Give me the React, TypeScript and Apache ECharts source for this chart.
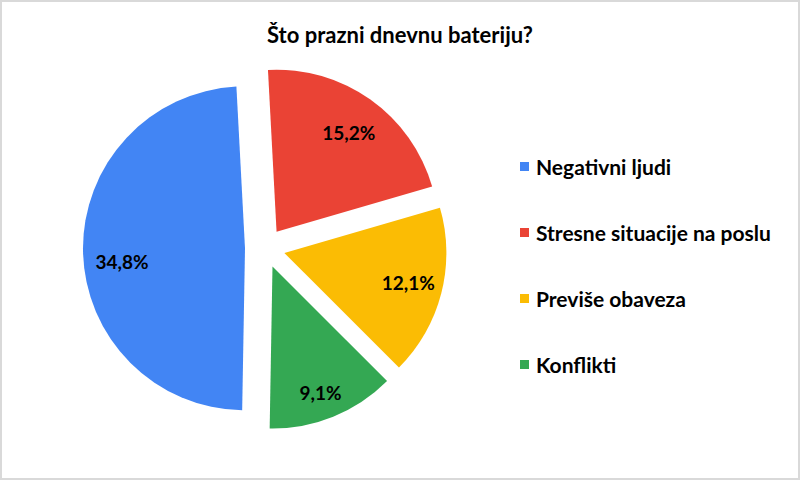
import React, { useEffect, useRef } from "react";
import * as echarts from "echarts";

const title = "Što prazni dnevnu bateriju?";
const categories = ["Negativni ljudi", "Stresne situacije na poslu", "Previše obaveza", "Konflikti"];
const values = [34.8, 15.2, 12.1, 9.1];
const colors = ["#4285F4", "#EA4335", "#FBBC04", "#34A853"];

const FONT = "Lato";
const labelNudges = [
  { dx: 5, dy: 11 },
  { dx: -2, dy: 5 },
  { dx: 0, dy: -2 },
  { dx: 0, dy: 7 },
];

export default function App() {
  const ref = useRef<HTMLDivElement>(null);
  useEffect(() => {
    const chart = echarts.init(ref.current!, null, { renderer: "svg" });
    const mkData = (transparent: boolean) =>
      categories.map((name, i) => ({
        name,
        value: values[i],
        selected: true,
        itemStyle: transparent ? { color: "rgba(0,0,0,0)" } : { color: colors[i] },
      }));
    chart.setOption({
      animation: false,
      backgroundColor: "#ffffff",
      title: {
        text: title,
        left: "center",
        top: 18,
        textStyle: { fontFamily: FONT, fontWeight: "bold", fontSize: 22, color: "#000" },
      },
      graphic: [
        {
          type: "rect",
          shape: { x: 1, y: 1, width: 798, height: 478 },
          style: { fill: "none", stroke: "#d9d9d9", lineWidth: 2 },
          silent: true,
        },
      ],
      legend: {
        orient: "vertical",
        left: 515,
        top: 151,
        icon: "rect",
        itemWidth: 9,
        itemHeight: 9,
        itemGap: 45,
        data: categories,
        textStyle: { fontFamily: FONT, fontWeight: "bold", fontSize: 21, color: "#000", padding: [0, 0, 0, 2] },
        selectedMode: false,
      },
      series: [
        {
          type: "pie",
          radius: [0, 162],
          center: [265, 248],
          startAngle: 269,
          clockwise: true,
          selectedMode: "multiple",
          selectedOffset: 20,
          silent: true,
          label: { show: false },
          labelLine: { show: false },
          emphasis: { disabled: true },
          data: mkData(false),
        },
        {
          type: "pie",
          radius: [88, 162],
          center: [265, 248],
          startAngle: 269,
          clockwise: true,
          selectedMode: "multiple",
          selectedOffset: 20,
          silent: true,
          legendHoverLink: false,
          label: {
            show: true,
            position: "inside",
            fontFamily: FONT,
            fontWeight: "bold",
            fontSize: 19,
            color: "#000",
            formatter: (p: any) => p.value.toFixed(1).replace(".", ",") + "%",
          },
          labelLayout: (p: any) => labelNudges[p.dataIndex] || {},
          labelLine: { show: false },
          emphasis: { disabled: true },
          data: mkData(true),
        },
      ],
    });
    return () => chart.dispose();
  }, []);
  return <div ref={ref} style={{ position: "fixed", left: 0, top: 0, width: 800, height: 480 }} />;
}
